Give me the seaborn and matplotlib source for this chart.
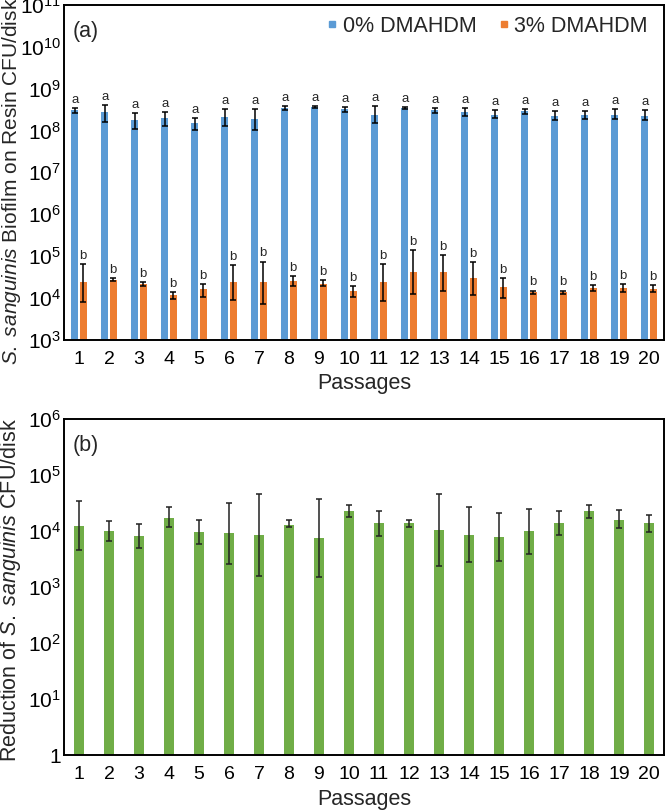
import numpy as np
import pandas as pd
import matplotlib
matplotlib.use("Agg")
import matplotlib.pyplot as plt
from matplotlib.lines import Line2D
from matplotlib.ticker import FuncFormatter, LogLocator, NullLocator
import seaborn as sns

# ---------------------------------------------------------------------------
# Data (log-scale values)
# ---------------------------------------------------------------------------
passages = list(range(1, 21))

# (a) biofilm CFU/disk, 0% DMAHDM
ctrl_mean = [3.0e8, 2.7e8, 1.8e8, 2.0e8, 1.5e8, 2.1e8, 1.9e8, 3.4e8, 3.7e8, 3.3e8,
             2.4e8, 3.5e8, 3.0e8, 2.8e8, 2.4e8, 2.9e8, 2.2e8, 2.35e8, 2.35e8, 2.2e8]
ctrl_hi = [3.5e8, 4.1e8, 2.6e8, 2.7e8, 1.95e8, 3.2e8, 3.3e8, 3.9e8, 3.9e8, 3.7e8,
           3.9e8, 3.7e8, 3.5e8, 3.5e8, 3.0e8, 3.3e8, 2.9e8, 2.95e8, 3.2e8, 3.0e8]
ctrl_lo = [2.6e8, 1.6e8, 1.07e8, 1.3e8, 1.0e8, 1.3e8, 1.0e8, 3.0e8, 3.5e8, 2.7e8,
           1.5e8, 3.3e8, 2.6e8, 2.2e8, 1.95e8, 2.5e8, 1.8e8, 1.9e8, 1.85e8, 1.75e8]

# (a) biofilm CFU/disk, 3% DMAHDM
dma_mean = [2.4e4, 2.75e4, 2.1e4, 1.15e4, 1.6e4, 2.4e4, 2.4e4, 2.6e4, 2.2e4, 1.45e4,
            2.4e4, 4.2e4, 4.2e4, 3.0e4, 1.8e4, 1.35e4, 1.35e4, 1.75e4, 1.75e4, 1.65e4]
dma_hi = [6.5e4, 2.95e4, 2.4e4, 1.4e4, 2.15e4, 6.2e4, 7.4e4, 3.3e4, 2.65e4, 1.95e4,
          6.5e4, 1.4e5, 1.05e5, 7.2e4, 2.95e4, 1.5e4, 1.5e4, 2.05e4, 2.2e4, 2.0e4]
dma_lo = [8.0e3, 2.5e4, 1.9e4, 9.3e3, 1.05e4, 8.7e3, 7.2e3, 1.9e4, 1.9e4, 1.05e4,
          8.3e3, 1.23e4, 1.48e4, 1.17e4, 1.0e4, 1.23e4, 1.23e4, 1.45e4, 1.4e4, 1.38e4]

# (b) reduction of S. sanguinis CFU/disk
red_mean = [1.26e4, 1.0e4, 8.3e3, 1.75e4, 9.5e3, 9.1e3, 8.7e3, 1.3e4, 7.5e3, 2.3e4,
            1.4e4, 1.4e4, 1.04e4, 8.7e3, 7.8e3, 1.0e4, 1.4e4, 2.3e4, 1.6e4, 1.4e4]
red_hi = [3.5e4, 1.5e4, 1.35e4, 2.7e4, 1.6e4, 3.2e4, 4.6e4, 1.6e4, 3.7e4, 2.9e4,
          2.3e4, 1.6e4, 4.6e4, 2.7e4, 2.1e4, 2.45e4, 2.3e4, 2.9e4, 2.35e4, 1.95e4]
red_lo = [4.6e3, 6.8e3, 5.1e3, 1.17e4, 5.9e3, 2.6e3, 1.6e3, 1.17e4, 1.5e3, 1.78e4,
          8.3e3, 1.17e4, 2.4e3, 2.8e3, 2.95e3, 3.9e3, 8.5e3, 1.74e4, 1.12e4, 9.5e3]

group_names = ["0% DMAHDM", "3% DMAHDM"]
ctrl_letters = ["a"] * 20
dma_letters = ["b"] * 20

colors = {"0% DMAHDM": "#5B9BD5", "3% DMAHDM": "#ED7D31"}
green = "#70AD47"

# ---------------------------------------------------------------------------
sns.set_style("white")
plt.rcParams["font.family"] = ["Liberation Sans", "DejaVu Sans"]
plt.rcParams["mathtext.fontset"] = "custom"
plt.rcParams["mathtext.rm"] = "Liberation Sans"
plt.rcParams["mathtext.it"] = "Liberation Sans:italic"

fig = plt.figure(figsize=(6.66, 8.11), dpi=100)
ax1 = fig.add_axes([0.096, 0.581, 0.901, 0.413])
ax2 = fig.add_axes([0.096, 0.069, 0.901, 0.414])


def log_label(v, pos):
    if v == 1:
        return "1"
    return r"$\mathregular{10^{%d}}$" % int(round(np.log10(v)))


# ---- panel (a) ------------------------------------------------------------
df_a = pd.DataFrame({
    "Passage": [str(p) for p in passages] * 2,
    "Group": [group_names[0]] * 20 + [group_names[1]] * 20,
    "CFU": ctrl_mean + dma_mean,
})
sns.barplot(data=df_a, x="Passage", y="CFU", hue="Group", palette=colors,
            width=0.56, gap=0.18, errorbar=None, saturation=1,
            edgecolor="none", ax=ax1, legend=False)
ax1.set_yscale("log")
ax1.set_ylim(1e3, 1e11)

for cont, lo, hi, mean, letters in zip(ax1.containers,
                                       [ctrl_lo, dma_lo], [ctrl_hi, dma_hi],
                                       [ctrl_mean, dma_mean],
                                       [ctrl_letters, dma_letters]):
    xs = [b.get_x() + b.get_width() / 2 for b in cont]
    m = np.array(mean)
    yerr = [m - np.array(lo), np.array(hi) - m]
    ax1.errorbar(xs, m, yerr=yerr, fmt="none", ecolor="black",
                 elinewidth=1.1, capsize=2.4, capthick=1.1, zorder=3)
    for x, top, t in zip(xs, hi, letters):
        ax1.annotate(t, (x, top), xytext=(0, 1.5), textcoords="offset points",
                     ha="center", va="bottom", fontsize=9.5)

handles = [Line2D([], [], marker="s", linestyle="none", markersize=5,
                  color=colors[g]) for g in group_names]
ax1.legend(handles, group_names, loc="upper right", ncol=2, frameon=False,
           fontsize=15.5, handlelength=0.4, handletextpad=0.3,
           columnspacing=1.05, bbox_to_anchor=(1.0, 1.015), borderaxespad=0.35)
ax1.text(0.015, 0.905, "(a)", transform=ax1.transAxes, fontsize=15.5)

ax1.set_xlabel("Passages", fontsize=15.5, labelpad=4)
ax1.set_ylabel(r"$\it{S.\ sanguinis}$ Biofilm on Resin CFU/disk", fontsize=15)
ax1.yaxis.set_label_coords(-0.068, 0.473)

# ---- panel (b) ------------------------------------------------------------
df_b = pd.DataFrame({"Passage": [str(p) for p in passages], "Reduction": red_mean})
sns.barplot(data=df_b, x="Passage", y="Reduction", color=green, saturation=1,
            width=0.31, errorbar=None, edgecolor="none", ax=ax2)
ax2.set_yscale("log")
ax2.set_ylim(1, 1e6)

xs = [b.get_x() + b.get_width() / 2 for b in ax2.patches]
m = np.array(red_mean)
ax2.errorbar(xs, m, yerr=[m - np.array(red_lo), np.array(red_hi) - m],
             fmt="none", ecolor="#222222", elinewidth=1.1, capsize=2.4,
             capthick=1.1, zorder=3)
ax2.text(0.015, 0.905, "(b)", transform=ax2.transAxes, fontsize=15.5)
ax2.set_xlabel("Passages", fontsize=15.5, labelpad=4)
ax2.set_ylabel(r"Reduction of $\it{S.\ sanguinis}$ CFU/disk", fontsize=15.5)
ax2.yaxis.set_label_coords(-0.068, 0.49)

# ---- shared styling -------------------------------------------------------
for ax in (ax1, ax2):
    ax.set_xlim(-0.5, 19.5)
    ax.yaxis.set_major_locator(LogLocator(base=10, numticks=20))
    ax.yaxis.set_minor_locator(NullLocator())
    ax.yaxis.set_major_formatter(FuncFormatter(log_label))
    ax.tick_params(axis="y", length=0, labelsize=15, colors="black", pad=2)
    ax.tick_params(axis="x", length=0, labelsize=14, colors="black", pad=8)
    for s in ax.spines.values():
        s.set_visible(True)
        s.set_color("black")
        s.set_linewidth(1.4)

fig.savefig("out.png", dpi=100)
